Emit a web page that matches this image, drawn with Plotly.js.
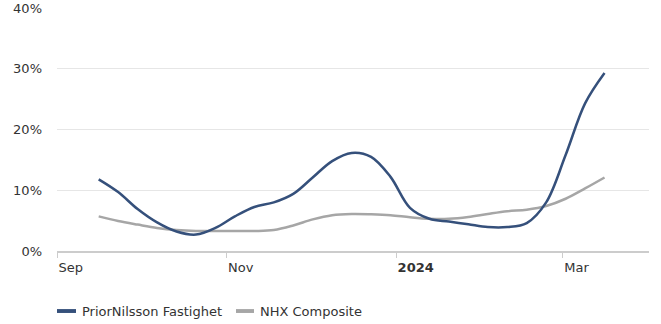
<!DOCTYPE html>
<html>
<head>
<meta charset="utf-8">
<script src="https://cdn.plot.ly/plotly-3.0.1.min.js"></script>
<style>
  html, body { margin: 0; padding: 0; background: #fff; }
  #chart { width: 661px; height: 324px; }
</style>
</head>
<body>
<div id="chart"></div>
<script>
// Weekly observation dates
const dates = [
  '2023-09-16', '2023-09-23', '2023-09-30', '2023-10-07', '2023-10-14',
  '2023-10-21', '2023-10-28', '2023-11-04', '2023-11-11', '2023-11-18',
  '2023-11-25', '2023-12-02', '2023-12-09', '2023-12-16', '2023-12-23',
  '2023-12-30', '2024-01-06', '2024-01-13', '2024-01-20', '2024-01-27',
  '2024-02-03', '2024-02-10', '2024-02-17', '2024-02-24', '2024-03-02',
  '2024-03-09', '2024-03-16'
];

// Series values in percent
const seriesNames = ['PriorNilsson Fastighet', 'NHX Composite'];
const priorNilsson = [
  11.8, 9.7, 6.9, 4.7, 3.2, 2.7, 3.8, 5.7, 7.25, 8.0,
  9.4, 12.1, 14.8, 16.15, 15.5, 12.2, 7.1, 5.3, 4.85, 4.4,
  3.95, 3.95, 4.6, 8.0, 15.8, 24.3, 29.3
];
const nhxComposite = [
  5.7, 4.95, 4.35, 3.8, 3.45, 3.3, 3.3, 3.3, 3.3, 3.45,
  4.2, 5.2, 5.9, 6.1, 6.05, 5.9, 5.55, 5.3, 5.3, 5.6,
  6.1, 6.55, 6.8, 7.4, 8.6, 10.3, 12.1
];

// Axis ticks
const xTickVals = ['2023-09-01', '2023-11-01', '2024-01-01', '2024-03-01'];
const xTickText = ['Sep', 'Nov', '<b>2024</b>', 'Mar'];
const yTickVals = [0, 10, 20, 30, 40];
const yTickText = ['0%', '10%', '20%', '30%', '40%'];

const colors = ['#35507b', '#a6a6a6'];
const font = 'DejaVu Sans, Verdana, sans-serif';

// Index series drawn first so the company line sits on top
const traces = [
  {
    x: dates, y: nhxComposite, name: seriesNames[1], type: 'scatter', mode: 'lines',
    line: { color: colors[1], width: 2.5, shape: 'spline', smoothing: 1 },
    showlegend: false, hoverinfo: 'x+y'
  },
  {
    x: dates, y: priorNilsson, name: seriesNames[0], type: 'scatter', mode: 'lines',
    line: { color: colors[0], width: 2.5, shape: 'spline', smoothing: 1 },
    showlegend: false, hoverinfo: 'x+y'
  }
];

// Legend drawn below the plot: a short bar and a label per series
const legendY = -0.247;
const legendItems = [
  { x0: 57, x1: 76, tx: 80 },
  { x0: 236, x1: 254, tx: 258 }
];
const plotLeft = 57, plotWidth = 592;
const px = v => (v - plotLeft) / plotWidth;

const shapes = legendItems.map((it, i) => ({
  type: 'rect', xref: 'paper', yref: 'paper',
  x0: px(it.x0), x1: px(it.x1), y0: legendY - 0.008, y1: legendY + 0.008,
  fillcolor: colors[i], line: { width: 0 }
}));
const annotations = legendItems.map((it, i) => ({
  xref: 'paper', yref: 'paper', x: px(it.tx), y: legendY,
  xanchor: 'left', yanchor: 'middle', showarrow: false,
  text: seriesNames[i], font: { family: font, size: 13, color: '#333333' }
}));

const layout = {
  width: 661, height: 324,
  margin: { l: 57, r: 12, t: 8, b: 73 },
  paper_bgcolor: '#ffffff', plot_bgcolor: '#ffffff',
  font: { family: font, size: 13, color: '#333333' },
  showlegend: false,
  xaxis: {
    type: 'date', range: ['2023-09-01', '2024-04-01'],
    tickvals: xTickVals, ticktext: xTickText,
    ticklabelposition: 'outside right', ticklabelshift: 0, ticklabelstandoff: 3,
    ticks: 'outside', ticklen: 5, tickwidth: 1, tickcolor: '#cccccc',
    showline: true, linecolor: '#cccccc', linewidth: 2,
    showgrid: false, zeroline: false,
    tickfont: { family: font, size: 13, color: '#333333' }
  },
  yaxis: {
    range: [0, 40], tickvals: yTickVals, ticktext: yTickText,
    showgrid: true, gridcolor: '#e6e6e6', gridwidth: 1,
    zeroline: false, showline: false, ticks: '',
    ticklabelstandoff: 14,
    tickfont: { family: font, size: 13, color: '#333333' }
  },
  shapes: shapes,
  annotations: annotations
};

Plotly.newPlot('chart', traces, layout, { displayModeBar: false, staticPlot: true });
</script>
</body>
</html>
